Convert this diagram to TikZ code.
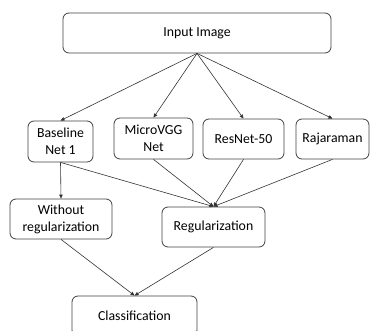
\documentclass[tikz,border=0pt]{standalone}
\usepackage{fontspec}
\setmainfont{Carlito}
\usetikzlibrary{arrows.meta}

\begin{document}
\begin{tikzpicture}[x=1pt, y=1pt,
    box/.style={draw=black!75, line width=0.8pt, rounded corners=6pt, align=center,
        inner sep=0pt, font=\fontsize{13.8}{17}\selectfont},
    flow/.style={draw=black!80, line width=0.6pt, -{Triangle[length=4pt, width=3.5pt]}}]
    % Fix the frame, the bottom box runs off the page
    \clip (0,0) rectangle (372,331);

    % Top box
    \node[box, minimum width=268, minimum height=40] (in) at (197,298) {Input Image};

    % The four networks
    \node[box, minimum width=65, minimum height=41] (b1) at (60.5,189.5) {Baseline\\Net 1};
    \node[box, minimum width=79, minimum height=41] (vgg) at (153.5,192.5) {MicroVGG\\Net};
    \node[box, minimum width=81, minimum height=40] (res) at (243.5,192) {ResNet-50};
    \node[box, minimum width=73, minimum height=40] (raj) at (332.5,192) {Rajaraman};

    % Training variants
    \node[box, minimum width=102, minimum height=40] (wo) at (61,112) {Without\\regularization};
    \node[box, minimum width=103, minimum height=40] (reg) at (213.5,104) {Regularization};

    % Last step
    \node[box, minimum width=125, minimum height=40] (cls) at (134.5,15) {Classification};

    \draw[flow] (in.south) -- (b1.north);
    \draw[flow] (in.south) -- (vgg.north);
    \draw[flow] (in.south) -- (res.north);
    \draw[flow] (in.south) -- (raj.north);

    \draw[flow] (b1.south) -- (wo.north);
    \draw[flow] (b1.south) -- (reg.north);
    \draw[flow] (vgg.south) -- (reg.north);
    \draw[flow] (res.south) -- (reg.north);
    \draw[flow] (raj.south) -- (reg.north);

    \draw[flow] (wo.south) -- (cls.north);
    \draw[flow] (reg.south) -- (cls.north);
\end{tikzpicture}
\end{document}
